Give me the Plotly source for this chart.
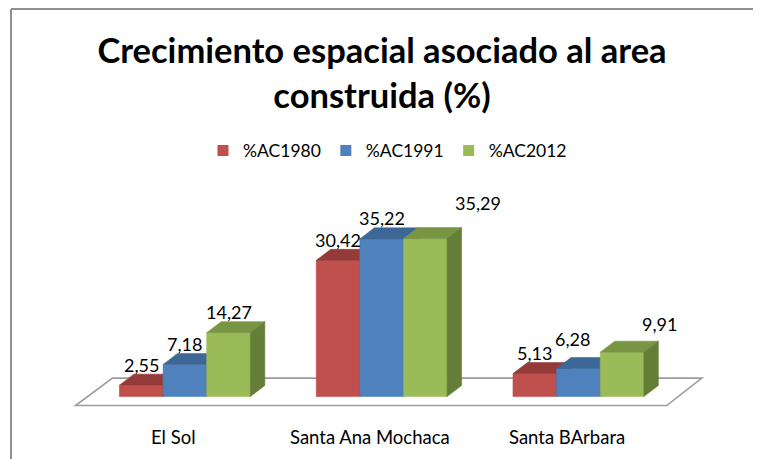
import plotly.graph_objects as go

# ---------------- data ----------------
categories = ["El Sol", "Santa Ana Mochaca", "Santa BArbara"]
series_names = ["%AC1980", "%AC1991", "%AC2012"]
ac1980 = [2.55, 30.42, 5.13]
ac1991 = [7.18, 35.22, 6.28]
ac2012 = [14.27, 35.29, 9.91]
series_values = [ac1980, ac1991, ac2012]

# ---------------- style ----------------
FONT = "Lato"
FRONT = ["#C0504D", "#4F81BD", "#9BBB59"]
TOP = ["#943A38", "#3D6896", "#789544"]
SIDE = ["#7F302E", "#335A86", "#647D37"]
BAR_W = 0.2217          # width of one bar in category units
DEPTH_X = 0.0736        # 3D depth, category units
DEPTH_Y = 2.46          # 3D depth, value units
LABEL_NUDGE = {  # (series, category): (xshift px, yshift px)
    (2, 1): (53, 36), (1, 2): (-6, 29), (2, 2): (37, 28),
}
FLOOR = dict(fl=-0.556, fr=2.449, bl=-0.368, br=2.627, front=-2.0, back=4.13)
PAGE_OFF = 8  # default page body margin in the browser


def fmt(v):
    return f"{v:.2f}".replace(".", ",")


fig = go.Figure()

ns = len(series_values)
for s, vals in enumerate(series_values):
    fx, fy, tx, ty, sx, sy = [], [], [], [], [], []
    for c, v in enumerate(vals):
        xc = c + (s - (ns - 1) / 2) * BAR_W
        x0, x1 = xc - BAR_W / 2, xc + BAR_W / 2
        fx += [x0, x1, x1, x0, x0, None]
        fy += [0, 0, v, v, 0, None]
        tx += [x0, x1, x1 + DEPTH_X, x0 + DEPTH_X, x0, None]
        ty += [v, v, v + DEPTH_Y, v + DEPTH_Y, v, None]
        sx += [x1, x1 + DEPTH_X, x1 + DEPTH_X, x1, x1, None]
        sy += [0, DEPTH_Y, v + DEPTH_Y, v, 0, None]
    for xs, ys, col in ((fx, fy, FRONT[s]), (tx, ty, TOP[s]), (sx, sy, SIDE[s])):
        fig.add_trace(go.Scatter(
            x=xs, y=ys, fill="toself", fillcolor=col, mode="lines",
            line=dict(color=col, width=0.6), showlegend=False, hoverinfo="skip",
        ))

# legend entries
for s, name in enumerate(series_names):
    fig.add_trace(go.Scatter(
        x=[None], y=[None], mode="markers", name=name,
        marker=dict(symbol="square", size=11, color=FRONT[s]),
    ))

# data labels
for s, vals in enumerate(series_values):
    for c, v in enumerate(vals):
        xc = c + (s - (ns - 1) / 2) * BAR_W
        dx, dy = LABEL_NUDGE.get((s, c), (0, 20.5))
        fig.add_annotation(
            x=xc, y=v, xref="x", yref="y", text=fmt(v), showarrow=False,
            xshift=dx, yshift=dy, yanchor="middle",
            font=dict(family=FONT, size=18, color="#000000"),
        )

# category labels
for c, name in enumerate(categories):
    fig.add_annotation(
        x=c - 0.06, y=0, xref="x", yref="paper", text=name, showarrow=False,
        yanchor="middle", yshift=-26.6,
        font=dict(family=FONT, size=18.5, color="#000000"),
    )

# floor
f = FLOOR
fig.add_shape(
    type="path", xref="x", yref="y", layer="below",
    path=(f"M {f['fl']},{f['front']} L {f['fr']},{f['front']} "
          f"L {f['br']},{f['back']} L {f['bl']},{f['back']} Z"),
    fillcolor="white", line=dict(color="#9c9c9c", width=1.6),
)

# chart frame
fig.add_shape(type="line", xref="paper", yref="paper", x0=-0.0687, x1=-0.0687,
              y0=2.036, y1=-0.4, line=dict(color="#8f8f8f", width=2))
fig.add_shape(type="line", xref="paper", yref="paper", x0=-0.0687, x1=1.052,
              y0=2.036, y1=2.036, line=dict(color="#8f8f8f", width=2))

fig.update_layout(
    width=761, height=459, autosize=False,
    margin=dict(l=56.5 - PAGE_OFF, r=761 - (726 - PAGE_OFF), t=213.3 - PAGE_OFF,
                b=459 - (410.4 - PAGE_OFF), pad=0),
    paper_bgcolor="white", plot_bgcolor="white",
    title=dict(
        text="<b>Crecimiento espacial asociado al area<br>construida (%)</b>",
        x=(382 - PAGE_OFF) / 761, xref="container", xanchor="center",
        y=1 - (63 - PAGE_OFF) / 459, yref="container", yanchor="middle",
        font=dict(family=FONT, size=34.5, color="#000000"),
    ),
    legend=dict(
        orientation="h", x=0.494, xanchor="center", y=1.316, yanchor="middle",
        font=dict(family=FONT, size=17.5, color="#000000"),
        itemwidth=30, bgcolor="rgba(0,0,0,0)",
    ),
    xaxis=dict(range=[-0.65, 2.75], visible=False, fixedrange=True),
    yaxis=dict(range=[-3, 41], visible=False, fixedrange=True),
    hovermode=False,
)

fig.write_html("out.html")
